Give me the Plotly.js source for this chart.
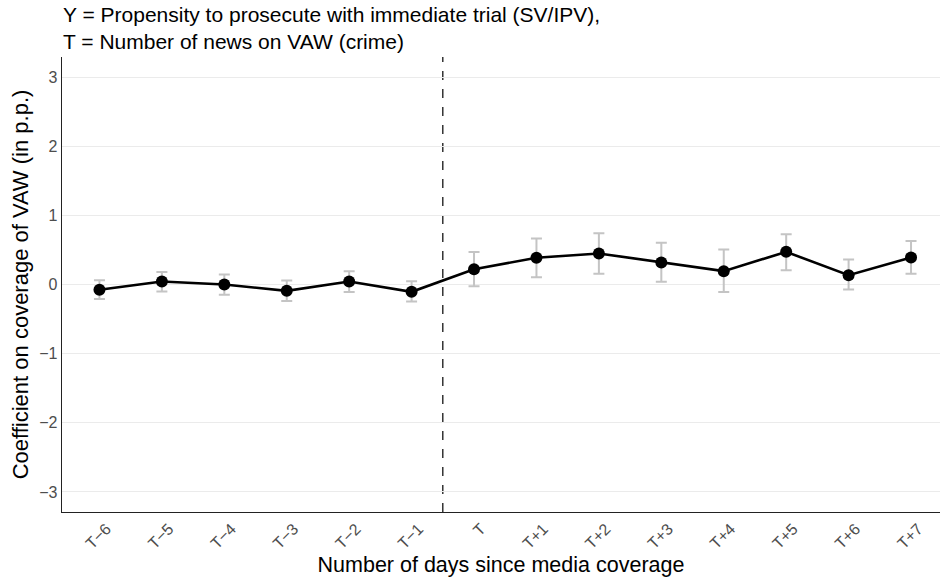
<!DOCTYPE html>
<html>
<head>
<meta charset="utf-8">
<script src="https://cdn.plot.ly/plotly-3.0.1.min.js"></script>
<style>html,body{margin:0;padding:0;background:#fff;}#chart{width:940px;height:580px;}</style>
</head>
<body>
<div id="chart"></div>
<script>
const tickLabels = ["T\u22126","T\u22125","T\u22124","T\u22123","T\u22122","T\u22121","T","T+1","T+2","T+3","T+4","T+5","T+6","T+7"];
const coef  = [-0.077, 0.043, 0.000, -0.092, 0.043, -0.106, 0.220, 0.386, 0.449, 0.319, 0.193, 0.472, 0.135, 0.391];
const upper = [0.060, 0.180, 0.145, 0.058, 0.190, 0.048, 0.470, 0.667, 0.740, 0.603, 0.507, 0.725, 0.362, 0.628];
const lower = [-0.210, -0.100, -0.150, -0.240, -0.110, -0.246, -0.025, 0.106, 0.154, 0.038, -0.107, 0.207, -0.072, 0.154];
const yTickVals = [-3, -2, -1, 0, 1, 2, 3];
const yTickText = ["\u22123", "\u22122", "\u22121", "0", "1", "2", "3"];

const idx = tickLabels.map((_, i) => i);
const errPlus = upper.map((u, i) => u - coef[i]);
const errMinus = lower.map((l, i) => coef[i] - l);

const traces = [
  {
    x: idx, y: coef, type: 'scatter', mode: 'lines+markers',
    line: {color: '#000', width: 2.6},
    marker: {color: '#000', size: 12},
    error_y: {type: 'data', symmetric: false, array: errPlus, arrayminus: errMinus,
              color: '#c4c4c4', thickness: 2, width: 5.5},
    hoverinfo: 'x+y', showlegend: false
  }
];

const PLOT_H = 580 - 57 - 68;

const layout = {
  width: 940, height: 580,
  margin: {l: 62, r: 0, t: 57, b: 68},
  paper_bgcolor: '#fff', plot_bgcolor: '#fff',
  font: {family: 'Liberation Sans, Arial, sans-serif', color: '#000'},
  annotations: [
    {
      text: 'Y = Propensity to prosecute with immediate trial (SV/IPV),<br>T = Number of news on VAW (crime)',
      xref: 'paper', x: 0, xanchor: 'left', align: 'left',
      yref: 'paper', y: 1 + 55 / PLOT_H, yanchor: 'top',
      showarrow: false, borderpad: 0,
      font: {size: 21, color: '#000'}
    }
  ],
  xaxis: {
    range: [-0.6, 13.464],
    tickvals: idx, ticktext: tickLabels,
    tickangle: -45,
    ticklabelshift: 7,
    tickfont: {size: 16, color: '#4d4d4d'},
    showgrid: false, zeroline: false,
    showline: true, linecolor: '#222', linewidth: 1.3,
    ticks: '', automargin: false,
    title: {text: 'Number of days since media coverage', font: {size: 21.5, color: '#000'}, standoff: 6}
  },
  yaxis: {
    range: [-3.29, 3.29],
    tickvals: yTickVals,
    ticktext: yTickText,
    tickfont: {size: 16, color: '#4d4d4d'},
    showgrid: true, gridcolor: '#ebebeb', gridwidth: 1,
    zeroline: false,
    showline: true, linecolor: '#222', linewidth: 1.3,
    ticks: '', automargin: false,
    title: {text: 'Coefficient on coverage of VAW (in p.p.)', font: {size: 22, color: '#000'}, standoff: 4}
  },
  shapes: [
    {type: 'line', xref: 'paper', x0: 0, x1: 1, yref: 'y', y0: 0, y1: 0,
     line: {color: '#ff0000', width: 1}, layer: 'below'},
    {type: 'line', xref: 'x', x0: 5.5, x1: 5.5, yref: 'paper', y0: 0, y1: 1,
     line: {color: '#000', width: 1.2, dash: 'dash'}, layer: 'below'}
  ]
};

Plotly.newPlot('chart', traces, layout, {displayModeBar: false, staticPlot: true});
</script>
</body>
</html>
